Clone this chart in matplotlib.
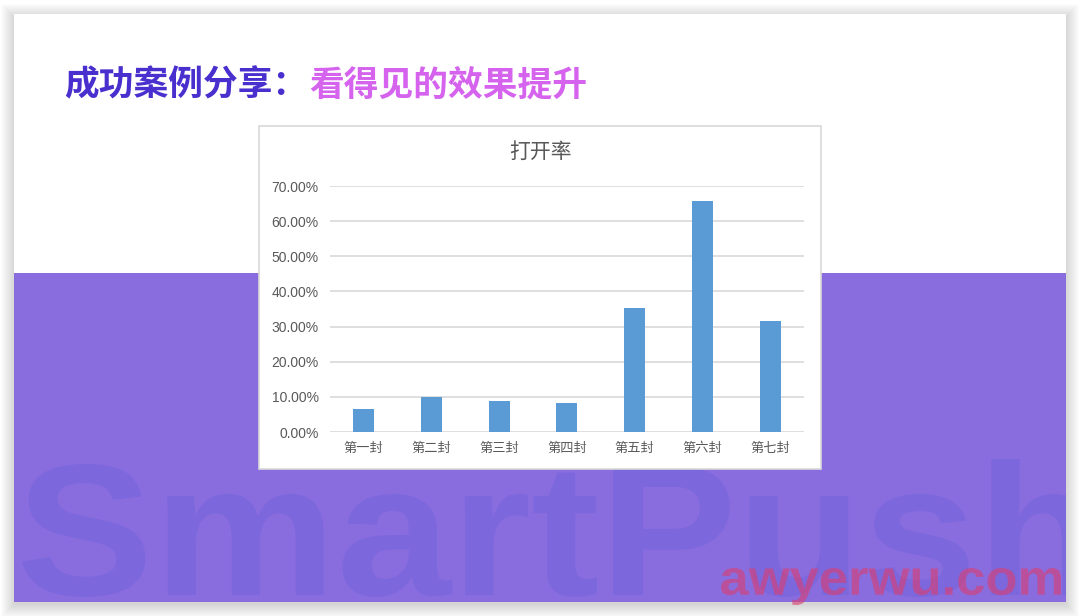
import matplotlib.pyplot as plt
from matplotlib.patches import Rectangle, PathPatch
from matplotlib.textpath import TextPath
from matplotlib.font_manager import FontProperties
from matplotlib.transforms import Affine2D
from matplotlib.ticker import PercentFormatter

# 数据
categorias = ['第一封', '第二封', '第三封', '第四封', '第五封', '第六封', '第七封']
taxa_abertura = [0.065, 0.099, 0.088, 0.083, 0.353, 0.656, 0.316]
ticks_y = [0.0, 0.1, 0.2, 0.3, 0.4, 0.5, 0.6, 0.7]

titulo_1 = '成功案例分享：'
titulo_2 = '看得见的效果提升'
titulo_grafico = '打开率'

W, H = 1080, 616
fig = plt.figure(figsize=(W / 100, H / 100), dpi=100)

# fundo do slide (coordenadas em pixels)
bg = fig.add_axes([0, 0, 1, 1])
bg.set_xlim(0, W)
bg.set_ylim(H, 0)
bg.axis('off')

# sombra
for i in range(14):
    bg.add_patch(Rectangle((14 - i, 14 - i + 3), 1052 + 2 * i, 588 + 2 * i,
                           facecolor='black', alpha=0.010, lw=0))

slide = Rectangle((14, 14), 1052, 588, facecolor='white', lw=0)
bg.add_patch(slide)
faixa = Rectangle((14, 273), 1052, 329, facecolor='#896ddf', lw=0)
bg.add_patch(faixa)


def texto_em_caixa(ax, s, x0, x1, y_top, y_bot, color, alpha=1.0, clip=None):
    prop = FontProperties(family='Liberation Sans', weight='bold')
    tp = TextPath((0, 0), s, size=100, prop=prop)
    ext = tp.get_extents()
    sx = (x1 - x0) / ext.width
    sy = (y_bot - y_top) / ext.height
    tr = Affine2D().translate(-ext.x0, -ext.y1).scale(sx, -sy).translate(x0, y_top)
    p = PathPatch(tr.transform_path(tp), facecolor=color, lw=0, alpha=alpha)
    ax.add_patch(p)
    if clip is not None:
        p.set_clip_path(clip)
    return p


# marcas d'água
texto_em_caixa(bg, 'SmartPush', 22, 1090, 459, 597, '#7d67dc', clip=slide)
texto_em_caixa(bg, 'awyerwu.com', 721, 1061, 568, 605, (0.86, 0.24, 0.43), alpha=0.6)

# título
fp_titulo = dict(family=['Noto Sans CJK SC', 'DejaVu Sans'], weight='bold', fontsize=25)
bg.text(64, 85, titulo_1, color='#4a2fcf', va='center', ha='left', **fp_titulo)
bg.text(309, 85, titulo_2, color='#d563ee', va='center', ha='left', **fp_titulo)

# moldura do gráfico
bg.add_patch(Rectangle((259, 126), 562, 343, facecolor='white',
                       edgecolor='#d9d9d9', lw=1.2))
bg.text(540, 152, titulo_grafico, color='#595959', ha='center', va='center',
        fontsize=15, family=['Noto Sans CJK SC', 'DejaVu Sans'])

# gráfico de barras
x0, x1, y_top, y_bot = 329.7, 804, 186, 432
ax = fig.add_axes([x0 / W, (H - y_bot) / H, (x1 - x0) / W, (y_bot - y_top) / H])
ax.set_facecolor('none')
pos = list(range(len(categorias)))
ax.bar(pos, taxa_abertura, width=0.31, color='#5b9bd5', zorder=3)
ax.set_xlim(-0.5, len(categorias) - 0.5)
ax.set_ylim(0, 0.7)
ax.set_yticks(ticks_y)
ax.yaxis.set_major_formatter(PercentFormatter(1.0, decimals=2))
ax.set_xticks(pos)
ax.set_xticklabels(categorias, family=['Noto Sans CJK SC', 'DejaVu Sans'],
                   fontsize=9.5, color='#595959')
for lb in ax.get_yticklabels():
    lb.set_family('Liberation Sans')
    lb.set_fontsize(10)
    lb.set_color('#595959')
ax.yaxis.grid(True, color='#d9d9d9', lw=1.2)
ax.set_axisbelow(True)
for sp in ax.spines.values():
    sp.set_visible(False)
ax.tick_params(axis='both', length=0)
ax.tick_params(axis='y', pad=8)
ax.tick_params(axis='x', pad=7)

fig.savefig('out.png', dpi=100)
